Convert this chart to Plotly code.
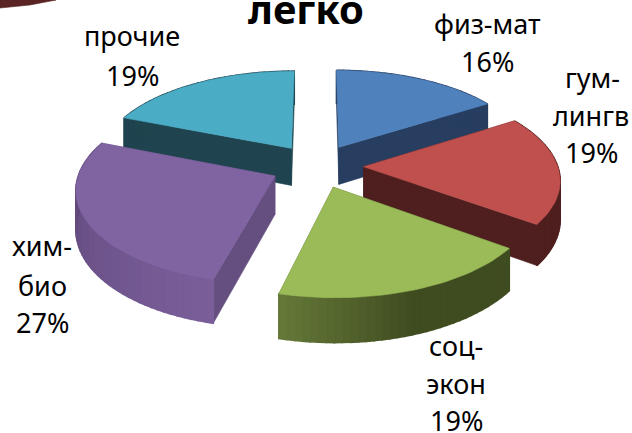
import math
import plotly.graph_objects as go

# Data
categories = ["физ-мат", "гум-лингв", "соц-экон", "хим-био", "прочие"]
shares = [16, 19, 19, 27, 19]
percent_labels = ["16%", "19%", "19%", "27%", "19%"]
title_text = "легко"

# Styles
top_colors = ["#4F81BD", "#C0504D", "#9BBB59", "#8064A2", "#4BACC6"]
wall_colors = ["#273E60", "#4E1F1E", "#566A30", "#654F80", "#1F444F"]
rim_start = ["#273E60", "#4E1F1E", "#3F4C20", "#7A5E9A", "#1F444F"]
rim_mid = ["#273E60", "#4E1F1E", "#3F4C20", "#6B5288", "#1F444F"]
rim_end = ["#273E60", "#4E1F1E", "#647838", "#5A4172", "#1F444F"]
draw_order = [0, 4, 1, 3, 2]

# Projection of the tilted pie (unit radius) to the canvas
CX, CY, AX, BY, PERSP, EXPLODE, DEPTH = 317, 166, 194, 91, 0.125, 0.24, 38


def project(X, Y, drop=0.0):
    w = 1 / (1 + PERSP * Y)
    return CX + AX * X * w, CY - BY * Y * w + DEPTH * w * drop


def mix(a, b, t):
    ca = [int(a[i:i + 2], 16) for i in (1, 3, 5)]
    cb = [int(b[i:i + 2], 16) for i in (1, 3, 5)]
    return "#%02x%02x%02x" % tuple(round(p + (q - p) * t) for p, q in zip(ca, cb))


def poly(fig, pts, color, lw=0.6):
    fig.add_trace(go.Scatter(
        x=[p[0] for p in pts] + [pts[0][0]], y=[p[1] for p in pts] + [pts[0][1]],
        mode="lines", fill="toself", fillcolor=color,
        line=dict(color=color, width=lw), hoverinfo="skip", showlegend=False))


fig = go.Figure()

# Edge of a neighbouring shape, cut off by the page corner
poly(fig, [(0, 0), (56, 0), (30, 5), (0, 8)], "#5A2424")

total = sum(shares)
starts, acc = [], 0
for s in shares:
    starts.append(acc / total * 2 * math.pi)
    acc += s

for i in draw_order:
    a0 = starts[i]
    a1 = a0 + shares[i] / total * 2 * math.pi
    mid = (a0 + a1) / 2
    ox, oy = EXPLODE * math.sin(mid), EXPLODE * math.cos(mid)
    n = max(int((a1 - a0) / math.radians(2)), 2)
    angs = [a0 + (a1 - a0) * k / n for k in range(n + 1)]
    arc = [(ox + math.sin(t), oy + math.cos(t)) for t in angs]
    # radial walls
    for end in (arc[0], arc[-1]):
        poly(fig, [project(ox, oy), project(*end), project(*end, 1), project(ox, oy, 1)], wall_colors[i])
    # rim, shaded along the arc
    for k in range(n):
        t = k / (n - 1) if n > 1 else 0
        c = mix(rim_start[i], rim_mid[i], t * 2) if t < .5 else mix(rim_mid[i], rim_end[i], t * 2 - 1)
        poly(fig, [project(*arc[k]), project(*arc[k + 1]), project(*arc[k + 1], 1), project(*arc[k], 1)], c, 1.6)
    # top face
    poly(fig, [project(ox, oy)] + [project(*p) for p in arc], top_colors[i])

label_lines = [
    (["физ-мат", percent_labels[0]], [487, 487], [23, 61]),
    (["гум-", "лингв", percent_labels[1]], [592, 591, 591], [77, 115, 152]),
    (["соц-", "экон", percent_labels[2]], [456, 456, 456], [345, 383, 420]),
    (["хим-", "био", percent_labels[3]], [42, 42, 42], [245, 285, 322]),
    (["прочие", percent_labels[4]], [132, 132], [35, 75]),
]
ann = []
for lines, xs, ys in label_lines:
    for t, x, y in zip(lines, xs, ys):
        ann.append(dict(x=x, y=y, text=t, showarrow=False, xanchor="center", yanchor="middle",
                        font=dict(family="Noto Sans", size=27, color="#000000")))
ann.append(dict(x=306, y=8, text="<b>" + title_text + "</b>", showarrow=False, xanchor="center",
                yanchor="middle", font=dict(family="Noto Sans", size=40, color="#000000")))

fig.update_layout(
    width=632, height=433, margin=dict(l=0, r=0, t=0, b=0),
    paper_bgcolor="#FFFFFF", plot_bgcolor="#FFFFFF", showlegend=False, annotations=ann,
    xaxis=dict(range=[0, 632], visible=False, fixedrange=True),
    yaxis=dict(range=[433, 0], visible=False, fixedrange=True),
)
fig.write_html("out.html", config=dict(displayModeBar=False),
               post_script="document.body.style.margin='0';document.documentElement.style.overflow='hidden';")
